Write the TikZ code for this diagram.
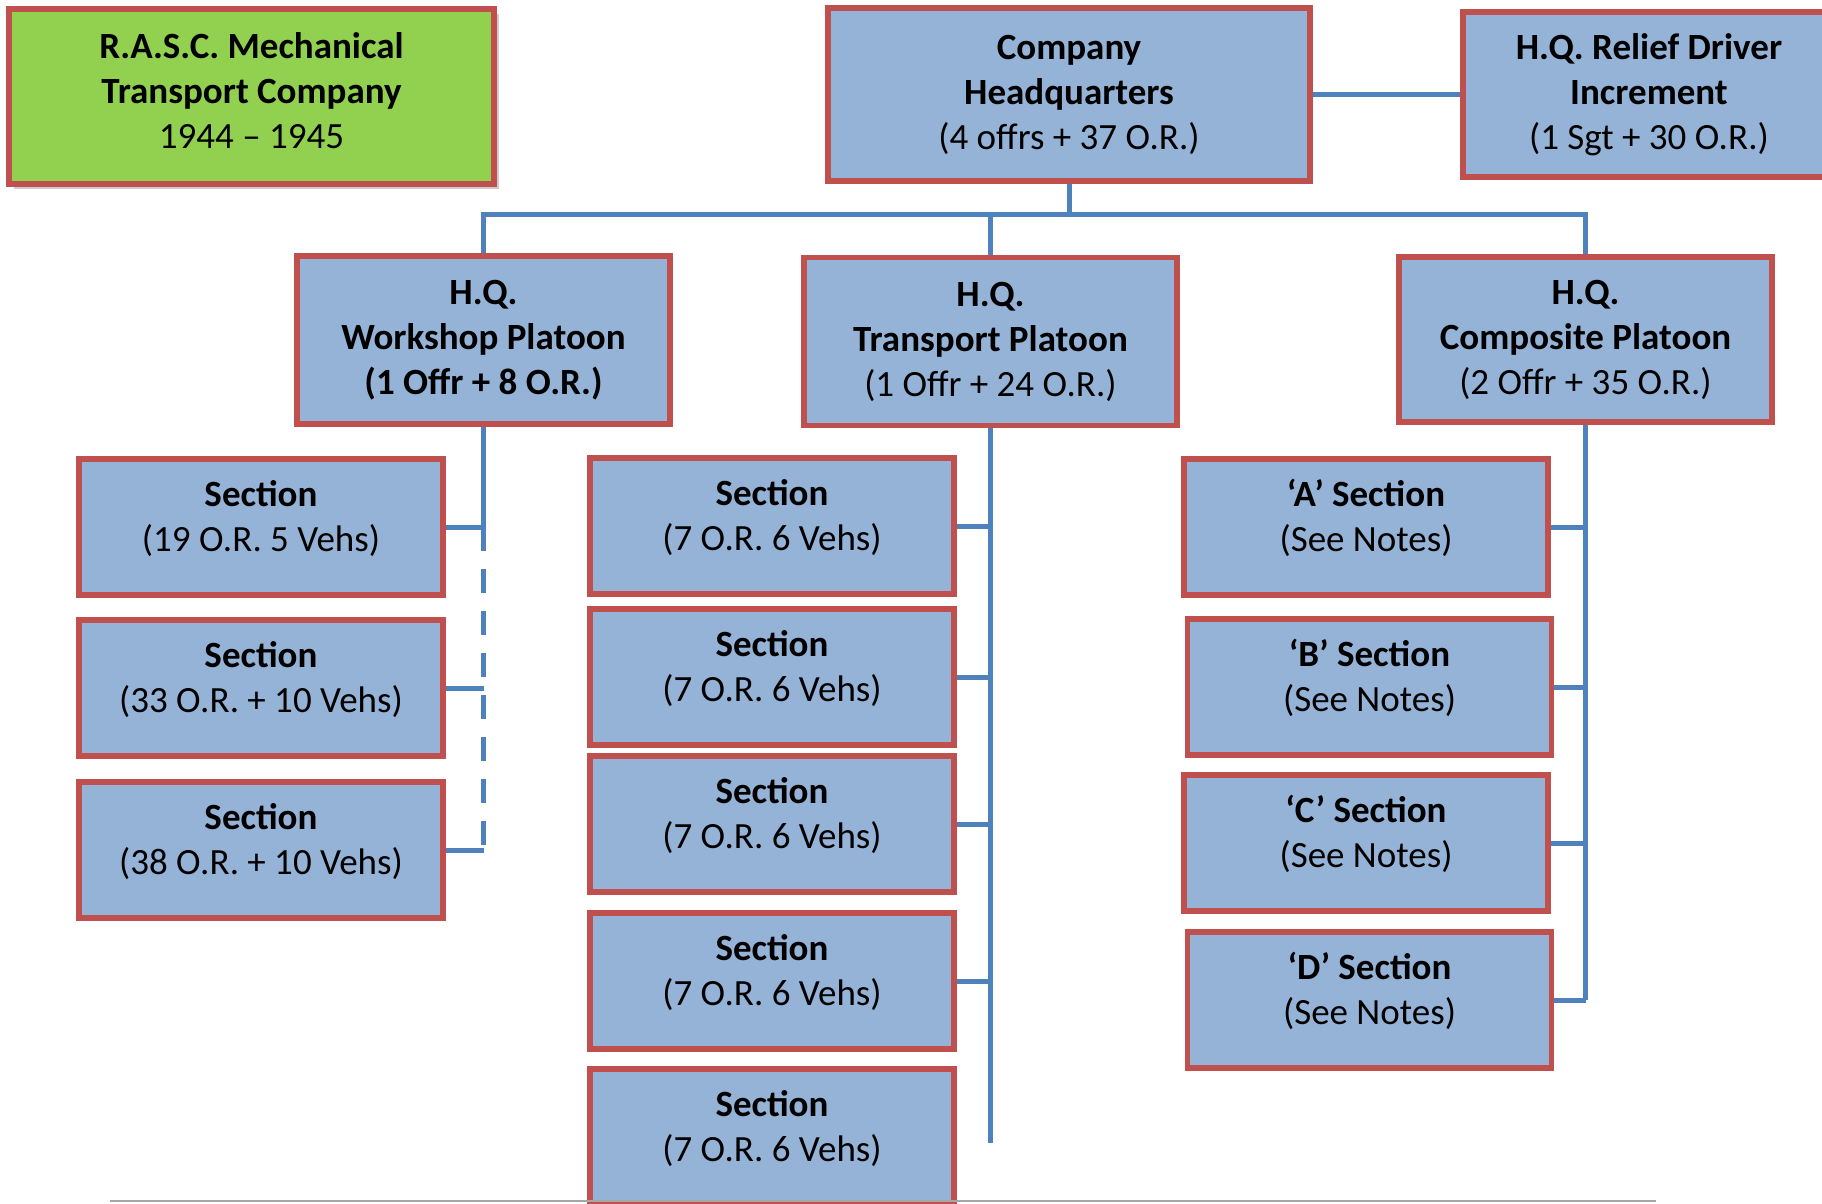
\documentclass[tikz,border=0pt]{standalone}
\usepackage{fontspec}
\setmainfont{Carlito}
\usepackage{tikz}
\usetikzlibrary{shadows, calc}

\definecolor{boxblue}{HTML}{95B3D7}
\definecolor{boxred}{HTML}{C0504D}
\definecolor{linkblue}{HTML}{4F81BD}
\definecolor{titlegreen}{HTML}{92D050}

\begin{document}
\begin{tikzpicture}[
    x=1pt, y=-1pt,
    unit/.style={draw=boxred, line width=5.5pt, fill=boxblue, rectangle, align=center, inner sep=0pt, font=\fontsize{37}{45}\selectfont},
    hq/.style={unit, minimum width=373pt, minimum height=168pt},
    section/.style={unit, minimum width=364pt, minimum height=136pt, text depth=23pt},
    link/.style={draw=linkblue, line width=5pt},
    every node/.style={text=black}
]
    \useasboundingbox (0,0) rectangle (1822,1203);
    \clip (0,0) rectangle (1822,1203);

    % ===============================
    % 1. TOP ROW
    % ===============================
    \node[unit, fill=titlegreen, minimum width=485pt, minimum height=175pt, text depth=12pt,
          drop shadow={shadow xshift=5pt, shadow yshift=-5pt, opacity=0.4}] (title) at (251.5, 96.5)
          {\textbf{R.A.S.C. Mechanical}\\ \textbf{Transport Company}\\ 1944 -- 1945};
    \node[unit, minimum width=482pt, minimum height=173pt] (company) at (1069, 94.5)
          {\textbf{Company}\\ \textbf{Headquarters}\\ (4 offrs + 37 O.R.)};
    \node[unit, minimum width=372pt, minimum height=165pt] (relief) at (1649, 94.5)
          {\textbf{H.Q. Relief Driver}\\ \textbf{Increment}\\ (1 Sgt + 30 O.R.)};

    % ===============================
    % 2. PLATOON HEADQUARTERS
    % ===============================
    \node[hq] (workshop) at (483.5, 340) {\textbf{H.Q.}\\ \textbf{Workshop Platoon}\\ \textbf{(1 Offr + 8 O.R.)}};
    \node[hq] (transport) at (990.5, 341.5) {\textbf{H.Q.}\\ \textbf{Transport Platoon}\\ (1 Offr + 24 O.R.)};
    \node[hq, minimum height=165pt] (composite) at (1585.5, 339.5) {\textbf{H.Q.}\\ \textbf{Composite Platoon}\\ (2 Offr + 35 O.R.)};

    % ===============================
    % 3. SECTIONS
    % ===============================

    % Workshop Platoon
    \node[section] (ws1) at (261, 527) {\textbf{Section}\\ (19 O.R. 5 Vehs)};
    \node[section] (ws2) at (261, 688) {\textbf{Section}\\ (33 O.R. + 10 Vehs)};
    \node[section] (ws3) at (261, 850) {\textbf{Section}\\ (38 O.R. + 10 Vehs)};

    % Transport Platoon
    \node[section] (ts1) at (772, 526) {\textbf{Section}\\ (7 O.R. 6 Vehs)};
    \node[section] (ts2) at (772, 677) {\textbf{Section}\\ (7 O.R. 6 Vehs)};
    \node[section] (ts3) at (772, 824) {\textbf{Section}\\ (7 O.R. 6 Vehs)};
    \node[section] (ts4) at (772, 981) {\textbf{Section}\\ (7 O.R. 6 Vehs)};
    \node[section] (ts5) at (772, 1137) {\textbf{Section}\\ (7 O.R. 6 Vehs)};

    % Composite Platoon
    \node[section] (secA) at (1366, 527) {\textbf{‘A’ Section}\\ (See Notes)};
    \node[section] (secB) at (1369.5, 687) {\textbf{‘B’ Section}\\ (See Notes)};
    \node[section] (secC) at (1366, 843) {\textbf{‘C’ Section}\\ (See Notes)};
    \node[section] (secD) at (1369.5, 1000) {\textbf{‘D’ Section}\\ (See Notes)};

    % ===============================
    % 4. CONNECTIONS
    % ===============================
    \draw[link] (company.east) -- (relief.west);

    \coordinate (bar) at ($(workshop.north)+(0,-39)$);
    \draw[link] (workshop.north) |- (bar) -| (composite.north);
    \draw[link] (company.south) -- (company.south |- bar);
    \draw[link] (transport.north) -- (transport.north |- bar);

    % Workshop: solid, then dashed
    \draw[link] (workshop.south) -- (workshop.south |- ws1.east);
    \draw[link, dash pattern=on 24pt off 18pt] (workshop.south |- ws1.east) -- (workshop.south |- ws3.east);
    \foreach \s in {ws1, ws2, ws3}
        \draw[link] (\s.east) -- (\s.east -| workshop.south);

    % Transport
    \draw[link] (transport.south) -- ($(transport.south |- ts5.east)+(0,6)$);
    \foreach \s in {ts1, ts2, ts3, ts4}
        \draw[link] (\s.east) -- (\s.east -| transport.south);

    % Composite
    \draw[link] (composite.south) -- (composite.south |- secD.east);
    \foreach \s in {secA, secB, secC, secD}
        \draw[link] (\s.east) -- (\s.east -| composite.south);

    % page rule
    \draw[gray!70, line width=2pt] (110, 1201) -- (1656, 1201);

\end{tikzpicture}
\end{document}
